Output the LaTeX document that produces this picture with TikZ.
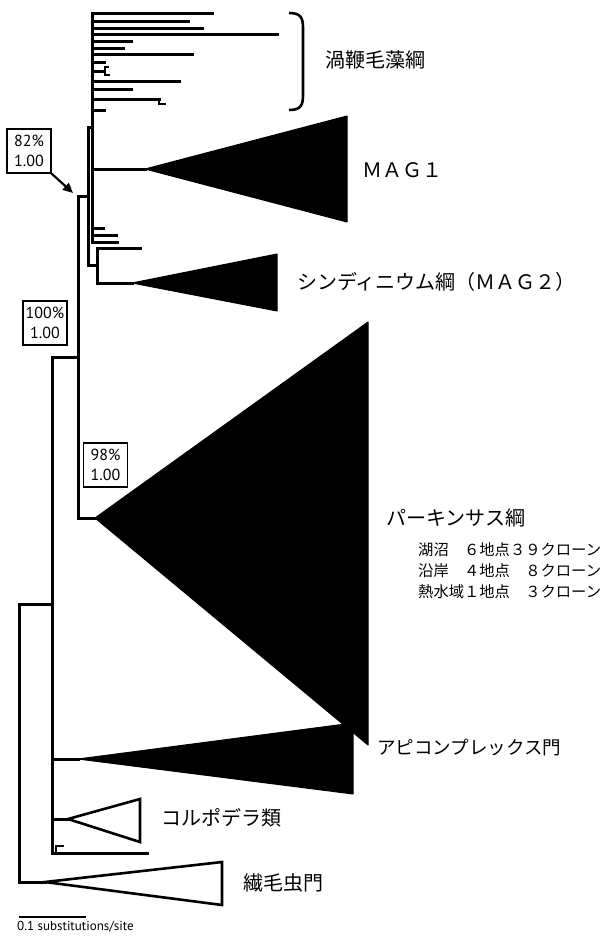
\documentclass[tikz,border=0pt]{standalone}
\usepackage{fontspec}
\setmainfont{PT Sans}
\newfontfamily\jp{Noto Sans CJK JP}
\usetikzlibrary{arrows.meta}
\begin{document}
\begin{tikzpicture}[x=1pt,y=-1pt,
  br/.style={line width=3pt,line cap=rect,line join=miter},
  fine/.style={line width=2.4pt,line cap=rect},
  clade/.style={fill=black,draw=black,line width=1pt,line join=round},
  oclade/.style={draw=black,line width=2.6pt,line join=miter},
  bs/.style={draw,line width=1.4pt,minimum width=44pt,minimum height=44pt,inner sep=0pt,align=center,font=\fontsize{16}{20.5}\selectfont},
  lab/.style={anchor=west,inner sep=0pt,font=\jp\fontsize{20}{24}\selectfont},
  sub/.style={anchor=west,inner sep=0pt,font=\jp\fontsize{15.3}{18}\selectfont}]
\useasboundingbox (0,0) rectangle (607,937);

% internal nodes
\coordinate (D) at (92,127);
\coordinate (A) at (88,196);
\coordinate (E) at (97,265);
\coordinate (B) at (78,357);
\coordinate (C) at (52,604);
\coordinate (R) at (19,743);

% cluster D (dinoflagellates)
\draw[br] (92,13) -- (92,242);
\foreach \y/\x in {13/212,21/188,28/202,34/277,41/131,48/123,54/192,62/104,71/104,81/179,89/131,99/159,110/104,228/103,235/116,242/117}
  \draw[br] (D |- 0,\y) -- (\x,\y);
\draw[fine] (105,75) -- (105,67) -- (108,67);
\draw[fine] (105,75) -- (109,75);
\draw[fine] (159,99) -- (159,104) -- (165,104);
% MAG1
\coordinate (mag1) at (145,169);
\draw[br] (D |- mag1) -- (mag1);
\draw[clade] (mag1) -- (347,116) -- (347,222) -- cycle;

% node A
\draw[br] (92,127) -- (88,127) -- (88,265) -- (97,265);
% node E (MAG2)
\coordinate (mag2) at (132,283);
\draw[br] (140,248) -- (97,248) -- (97,283) -- (mag2);
\draw[clade] (mag2) -- (277,254) -- (277,311) -- cycle;

% node B
\coordinate (perk) at (95,518);
\draw[br] (88,196) -- (78,196) -- (78,518) -- (perk);
\draw[clade] (perk) -- (368,322) -- (368,745) -- cycle;

% node C
\coordinate (api) at (78,759);
\coordinate (col) at (68,819);
\draw[br] (78,357) -- (52,357) -- (52,853) -- (147,853);
\draw[br] (52,759) -- (api);
\draw[br] (52,819) -- (col);
\draw[fine] (56,853) -- (56,846) -- (63,846);
\draw[clade] (api) -- (353,723) -- (353,794) -- cycle;
\draw[oclade] (col) -- (140,799) -- (140,842) -- cycle;

% root
\coordinate (cil) at (45,882);
\draw[br] (52,604) -- (19,604) -- (19,882) -- (cil);
\draw[oclade] (cil) -- (222,862) -- (222,905) -- cycle;

% bracket
\draw[line width=2.6pt] (289,13) .. controls (301,13) and (303,18) .. (303,28) -- (303,95) .. controls (303,105) and (301,110) .. (289,110);

% support boxes
\node[bs] (b82) at (29,151) {82\%\\1.00};
\node[bs] (b100) at (45,323) {100\%\\1.00};
\node[bs] (b98) at (105.5,465) {98\%\\1.00};
\coordinate (tip) at (73,193);
\draw[line width=2.2pt,-{Triangle[length=10pt,width=9pt]}] (b82.south east) -- (tip);

% labels
\node[lab] (l1) at (325,60) {渦鞭毛藻綱};
\node[lab] (l2) at (362,170) {ＭＡＧ１};
\node[lab] (l3) at (297,282) {シンディニウム綱（ＭＡＧ２）};
\node[lab] (l4) at (386,518) {パーキンサス綱};
\node[sub] (s1) at (418,550) {湖沼　６地点３９クローン};
\node[sub] (s2) at (418,571) {沿岸　４地点　８クローン};
\node[sub] (s3) at (418,592) {熱水域１地点　３クローン};
\node[lab,font=\jp\fontsize{18.5}{22}\selectfont] (l5) at (377,748) {アピコンプレックス門};
\node[lab] (l6) at (161,818) {コルポデラ類};
\node[lab] (l7) at (243,883) {繊毛虫門};

% scale bar
\draw[line width=2.6pt] (19,917) -- (86,917);
\node[anchor=north west,inner sep=0pt,font=\fontsize{13}{15}\selectfont] (sc) at (17,921) {0.1 substitutions/site};
\end{tikzpicture}
\end{document}
